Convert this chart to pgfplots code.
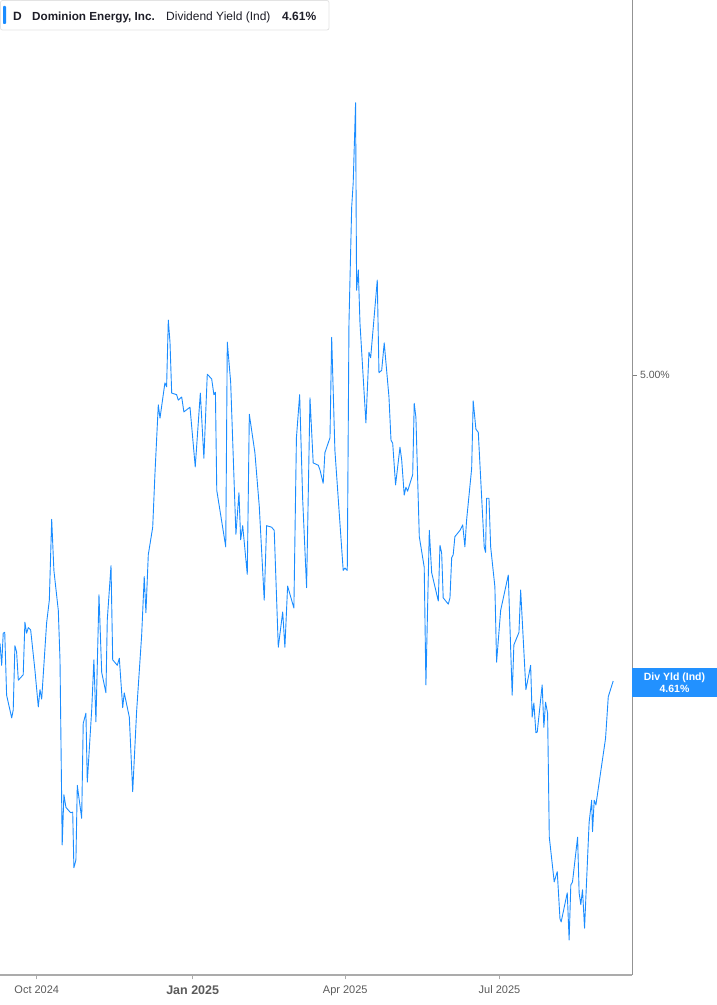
\documentclass[border=0pt]{standalone}
\usepackage{pgfplots}
\pgfplotsset{compat=1.18}
\usepackage{fontspec}
\setmainfont{Liberation Sans}
\definecolor{lineblue}{HTML}{1A8CFF}
\definecolor{boxblue}{HTML}{2291FF}
\definecolor{axisgray}{HTML}{ABABAB}
\definecolor{ticktext}{HTML}{5A5A5A}
\definecolor{legtext}{HTML}{1E1E28}
\begin{document}
\begin{tikzpicture}[x=1pt,y=1pt]
\begin{axis}[
  at={(0,0)}, anchor=south west,
  scale only axis, width=632pt, height=975pt,
  xmin=-21.7, xmax=351.2, ymin=4.2353, ymax=5.478,
  axis x line*=bottom, axis y line*=right,
  axis line style={-},
  x axis line style={draw=axisgray, line width=1.5pt},
  y axis line style={draw=gray!85, line width=1pt},
  xtick={0,92,182,273},
  xticklabels={Oct 2024,{\raisebox{-2.5pt}{\fontsize{12.5}{14}\selectfont\bfseries Jan 2025}},Apr 2025,Jul 2025},
  ytick={5}, yticklabels={5.00\%},
  tick align=outside, major tick length=4.5pt,
  x tick style={draw=axisgray, line width=1pt},
  y tick style={draw=gray, line width=0.8pt},
  xticklabel style={font=\fontsize{11}{13}\selectfont, text=ticktext, yshift=-2.5pt},
  yticklabel style={font=\fontsize{10.5}{12}\selectfont, text=ticktext},
  clip=false,
]
\addplot[lineblue, line width=0.9pt, line join=round] coordinates {
(-21.7,4.658) (-20.7,4.630) (-19.8,4.671) (-18.9,4.672) (-17.8,4.592) (-14.8,4.563)
(-13.9,4.573) (-12.9,4.655) (-11.9,4.647) (-10.9,4.611) (-8.0,4.618) (-7.0,4.685)
(-6.0,4.671) (-5.0,4.678) (-3.6,4.675) (-1.1,4.624) (0.9,4.577) (1.9,4.599)
(2.9,4.587) (5.8,4.684) (7.4,4.713) (8.8,4.816) (10.1,4.751) (12.7,4.700)
(13.7,4.637) (15.0,4.401) (16.0,4.465) (17.2,4.449) (19.6,4.443) (20.2,4.442)
(21.2,4.443) (21.9,4.372) (23.1,4.382) (23.9,4.477) (26.5,4.435) (27.4,4.556)
(29.0,4.569) (29.8,4.481) (32.4,4.573) (33.7,4.637) (34.9,4.558) (36.7,4.720)
(38.3,4.621) (40.8,4.595) (41.6,4.688) (43.8,4.757) (44.8,4.637) (47.5,4.630)
(48.7,4.639) (50.7,4.576) (51.6,4.595) (54.6,4.564) (56.6,4.469) (58.9,4.571)
(61.9,4.669) (63.4,4.743) (64.4,4.697) (65.8,4.771) (68.4,4.806) (69.7,4.873)
(71.7,4.962) (72.7,4.945) (75.6,4.990) (76.6,4.985) (77.6,5.070) (78.6,5.042)
(79.6,4.977) (82.5,4.975) (83.5,4.968) (85.5,4.972) (86.8,4.953) (90.4,4.959)
(93.5,4.883) (96.5,4.977) (98.6,4.894) (100.6,5.001) (103.2,4.995) (104.5,4.975)
(105.4,4.978) (106.2,4.853) (111.5,4.781) (112.4,5.042) (114.4,4.991) (117.5,4.797)
(119.3,4.850) (120.3,4.790) (121.5,4.808) (124.2,4.746) (125.4,4.950) (128.7,4.901)
(131.3,4.832) (134.2,4.713) (135.6,4.808) (138.6,4.806) (140.1,4.802) (142.5,4.653)
(145.1,4.698) (146.4,4.653) (148.0,4.731) (151.7,4.703) (153.2,4.920) (155.1,4.975)
(156.9,4.841) (159.2,4.729) (161.2,4.971) (163.1,4.888) (166.1,4.885) (167.1,4.879)
(169.0,4.862) (170.0,4.901) (173.0,4.920) (174.0,5.048) (175.9,4.904) (180.8,4.751)
(181.8,4.754) (183.2,4.751) (184.2,5.066) (185.8,5.214) (186.7,5.245) (188.1,5.347)
(188.7,5.108) (189.7,5.134) (190.7,5.066) (194.2,4.939) (196.0,5.029) (197.0,5.022)
(200.9,5.121) (201.9,5.003) (203.5,5.006) (205.0,5.041) (207.8,4.972) (209.0,4.917)
(210.0,4.913) (211.7,4.860) (214.3,4.908) (215.3,4.892) (216.8,4.847) (217.8,4.857)
(218.8,4.852) (221.8,4.873) (222.7,4.964) (223.7,4.946) (225.7,4.794) (228.6,4.755)
(229.6,4.605) (231.6,4.802) (233.0,4.748) (236.9,4.712) (237.9,4.783) (238.9,4.773)
(239.8,4.716) (242.8,4.708) (243.8,4.716) (244.8,4.767) (245.7,4.771) (246.7,4.794)
(249.7,4.802) (251.3,4.809) (252.6,4.781) (253.6,4.815) (256.6,4.881) (257.5,4.967)
(259.1,4.931) (260.5,4.927) (264.0,4.781) (264.8,4.774) (265.4,4.843) (266.8,4.843)
(267.8,4.781) (270.3,4.730) (271.3,4.634) (273.7,4.700) (278.2,4.745) (280.5,4.592)
(281.5,4.656) (284.5,4.672) (285.5,4.726) (288.6,4.599) (291.4,4.630) (292.3,4.564)
(293.3,4.582) (294.5,4.544) (295.3,4.545) (298.2,4.605) (299.2,4.551) (300.2,4.583)
(301.4,4.569) (302.4,4.411) (305.3,4.354) (307.1,4.367) (308.7,4.307) (309.4,4.303)
(313.0,4.340) (314.1,4.280) (315.1,4.350) (316.1,4.354) (319.1,4.411) (320.0,4.340)
(321.0,4.325) (322.0,4.344) (323.2,4.295) (325.9,4.430) (327.4,4.458) (327.9,4.418)
(328.9,4.458) (329.9,4.452) (335.6,4.537) (337.2,4.590) (340.1,4.610)
};
\end{axis}
% current value label on the right axis
\fill[boxblue] (632,278) rectangle (717,307);
\node[text=white, font=\bfseries\fontsize{10.5}{12.5}\selectfont, align=center, inner sep=0] at (674.5,292.5) {Div Yld (Ind)\\4.61\%};
% legend box
\draw[draw=gray!22, fill=white, line width=0.8pt, rounded corners=2pt] (0.5,945) rectangle (329,974.5);
\fill[lineblue, rounded corners=0.8pt] (3,951) rectangle (6,969);
\node[anchor=base west, inner sep=0, text=legtext, font=\bfseries\fontsize{12}{14}\selectfont] at (13,954) {D};
\node[anchor=base west, inner sep=0, text=legtext, font=\bfseries\fontsize{11.7}{14}\selectfont] at (32,954) {Dominion Energy, Inc.};
\node[anchor=base west, inner sep=0, text=legtext, font=\fontsize{12}{14}\selectfont] at (166,954) {Dividend Yield (Ind)};
\node[anchor=base west, inner sep=0, text=legtext, font=\bfseries\fontsize{12}{14}\selectfont] at (282,954) {4.61\%};
\pgfresetboundingbox
\path[use as bounding box] (0,-30) rectangle (717,975);
\end{tikzpicture}
\end{document}
